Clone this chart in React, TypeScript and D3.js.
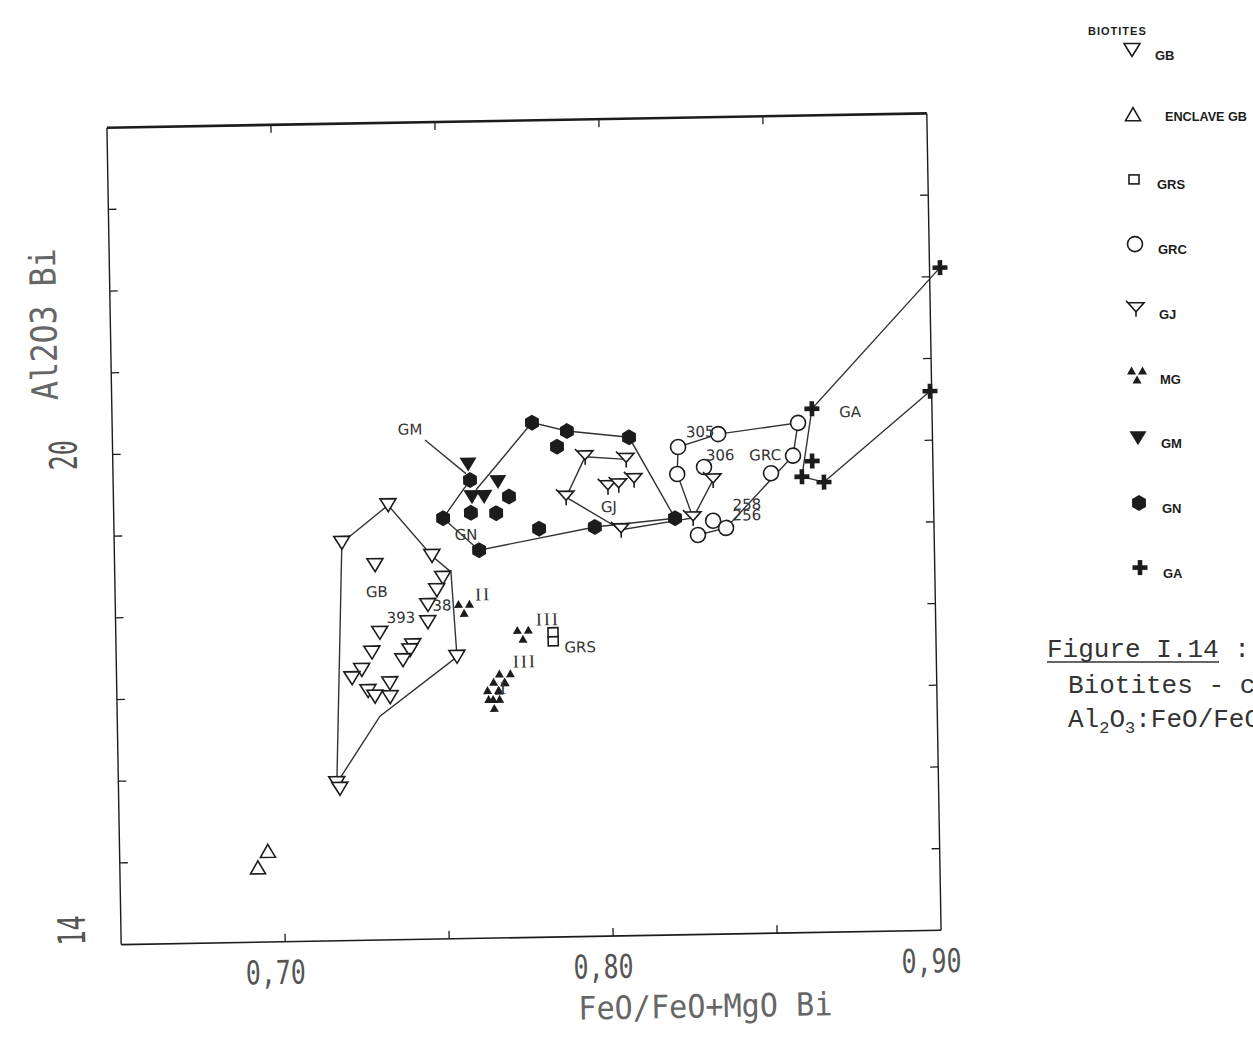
import React from "react";
import * as d3 from "d3";

type P = [number, number];

// ---- axes ----
const X_DOMAIN: P = [0.65, 0.9];
const Y_DOMAIN: P = [14, 24];
const X_TICKS = [0.7, 0.75, 0.8, 0.85];
const Y_TICKS = [15, 16, 17, 18, 19, 20, 21, 22, 23];
const X_TICK_LABELS: [number, string][] = [[0.7, "0,70"], [0.8, "0,80"], [0.9, "0,90"]];
const Y_TICK_LABELS: [number, string][] = [[20, "20"], [14, "14"]];
const X_TITLE = "FeO/FeO+MgO Bi";
const Y_TITLE = "Al2O3 Bi";

// ---- series (FeO/FeO+MgO, Al2O3) ----
const GB: P[] = [
  [0.7337, 19.32], [0.7194, 18.87], [0.7294, 18.59], [0.7468, 18.69], [0.75, 18.42],
  [0.7481, 18.27], [0.7453, 18.09], [0.7452, 17.88], [0.7305, 17.76], [0.7405, 17.6],
  [0.7396, 17.54], [0.7374, 17.42], [0.728, 17.52], [0.7248, 17.31], [0.7218, 17.21],
  [0.7539, 17.45], [0.7333, 17.14], [0.7266, 17.05], [0.7287, 16.98], [0.7333, 16.97],
  [0.7166, 15.93], [0.7175, 15.86],
];
const ENCLAVE_GB: P[] = [[0.6952, 15.11], [0.6921, 14.91]];
const GRS: P[] = [[0.7833, 17.73], [0.7833, 17.62]];
const GRC: P[] = [
  [0.8347, 20.12], [0.8224, 19.97], [0.822, 19.64], [0.8302, 19.72], [0.8591, 20.24],
  [0.8574, 19.84], [0.8506, 19.63], [0.8327, 19.06], [0.8366, 18.97], [0.828, 18.89],
];
const GJ: P[] = [
  [0.794, 19.87], [0.8065, 19.83], [0.8008, 19.5], [0.8041, 19.52], [0.8088, 19.58],
  [0.788, 19.38], [0.8046, 18.97], [0.8266, 19.1], [0.8329, 19.56],
];
const MG: P[] = [
  [0.7741, 17.73], [0.7684, 17.2], [0.7666, 17.1], [0.7647, 17.0], [0.765, 16.89], [0.7563, 18.06],
];
const GM: P[] = [[0.7583, 19.8], [0.7673, 19.58], [0.7593, 19.4], [0.763, 19.4]];
const GN: P[] = [
  [0.778, 20.3], [0.7886, 20.19], [0.7855, 20.0], [0.8075, 20.1], [0.7588, 19.61],
  [0.7504, 19.15], [0.7589, 19.21], [0.7666, 19.2], [0.7706, 19.4], [0.7612, 18.75],
  [0.7796, 19.0], [0.7966, 19.01], [0.8211, 19.1],
];
const GA: P[] = [
  [0.9032, 22.11], [0.8995, 20.6], [0.8634, 20.41], [0.8632, 19.77], [0.86, 19.58], [0.8667, 19.51],
];

// ---- connecting lines (hand-drawn envelopes) ----
const LINE_GB: P[] = [
  [0.7166, 15.93], [0.7194, 18.87], [0.7337, 19.32], [0.7468, 18.69], [0.7525, 18.49],
  [0.7539, 17.45], [0.7301, 16.74], [0.7166, 15.93],
];
const LINE_GN_UPPER: P[] = [[0.7606, 19.49], [0.778, 20.3], [0.7886, 20.19], [0.8075, 20.1], [0.8211, 19.1]];
const LINE_GN_LOWER: P[] = [[0.7588, 19.61], [0.7504, 19.15], [0.7612, 18.75], [0.7966, 19.01], [0.8211, 19.1]];
const LINE_GM_LEADER: P[] = [[0.7453, 20.11], [0.7576, 19.69]];
const LINE_GJ: P[] = [[0.8065, 19.83], [0.794, 19.87], [0.788, 19.38], [0.8046, 18.97], [0.8266, 19.1], [0.8329, 19.56]];
const LINE_GRC_UPPER: P[] = [[0.822, 19.64], [0.8224, 19.97], [0.8347, 20.12], [0.8591, 20.24], [0.8574, 19.84], [0.8366, 18.97]];
const LINE_GRC_LOWER: P[] = [[0.828, 18.89], [0.8366, 18.97]];
const LINE_GRC_GJ: P[] = [[0.822, 19.64], [0.8266, 19.1]];
const LINE_GA: P[] = [[0.9032, 22.11], [0.8634, 20.41], [0.86, 19.58], [0.8667, 19.51], [0.8995, 20.6]];
const LINES = [LINE_GB, LINE_GN_UPPER, LINE_GN_LOWER, LINE_GM_LEADER, LINE_GJ, LINE_GRC_UPPER, LINE_GRC_LOWER, LINE_GRC_GJ, LINE_GA];

// ---- in-plot labels ----
const LABELS: [string, number, number][] = [
  ["GM", 0.7408, 20.24], ["GN", 0.7573, 18.94], ["GB", 0.7298, 18.26], ["393", 0.737, 17.94],
  ["38", 0.7496, 18.08], ["GRS", 0.7915, 17.54], ["GJ", 0.801, 19.25], ["305", 0.8292, 20.15],
  ["306", 0.8352, 19.86], ["GRC", 0.8489, 19.85], ["258", 0.8431, 19.25], ["256", 0.843, 19.12],
  ["GA", 0.875, 20.36],
];
const ROMAN_LABELS: [string, number, number][] = [
  ["II", 0.7622, 18.21], ["III", 0.7818, 17.89], ["III", 0.7746, 17.38], ["I", 0.768, 17.06],
];

// ---- legend ----
const LEGEND_TITLE = "BIOTITES";
const LEGEND: [string, string][] = [
  ["GB", "GB"], ["ENCLAVE", "ENCLAVE GB"], ["GRS", "GRS"], ["GRC", "GRC"], ["GJ", "GJ"],
  ["MG", "MG"], ["GM", "GM"], ["GN", "GN"], ["GA", "GA"],
];

const CAPTION_TITLE = "Figure I.14 :";
const CAPTION_LINE1 = "Biotites - corrélation";

const INK = "#1c1c1c";

function Marker({ kind, x, y }: { kind: string; x: number; y: number }) {
  const t = `translate(${x},${y})`;
  const open = { fill: "#fff", stroke: INK, strokeWidth: 1.6 };
  switch (kind) {
    case "GB":
      return <path transform={t} d="M-8,-6.5L8,-6.5L0,6.5Z" {...open} />;
    case "ENCLAVE":
      return <path transform={t} d="M-7.5,6L7.5,6L0,-7Z" {...open} />;
    case "GRS":
      return <rect transform={t} x={-5} y={-4.5} width={10} height={9} {...open} />;
    case "GRC":
      return <circle transform={t} r={7.5} {...open} />;
    case "GJ":
      return (
        <g transform={t}>
          <path d="M-8,-6L8,-6L0,3Z" {...open} />
          <path d="M0,3L0,8M-8,-6L-10,-8" fill="none" stroke={INK} strokeWidth={1.6} />
        </g>
      );
    case "MG":
      return (
        <g transform={t} fill={INK}>
          <path d="M-10,1L-1,1L-5.5,-7Z" />
          <path d="M1,1L10,1L5.5,-7Z" />
          <path d="M-4.5,10L4.5,10L0,2Z" />
        </g>
      );
    case "GM":
      return <path transform={t} d="M-8.5,-7L8.5,-7L0,7Z" fill={INK} />;
    case "GN":
      return <path transform={t} d={d3.line().curve(d3.curveLinearClosed)(d3.range(6).map((i) => [8 * Math.cos(i * Math.PI / 3 + Math.PI / 6), 8 * Math.sin(i * Math.PI / 3 + Math.PI / 6)] as [number, number])) || ""} fill={INK} />;
    case "GA":
      return (
        <g transform={t} fill={INK}>
          <rect x={-7.5} y={-2.3} width={15} height={4.6} />
          <rect x={-2.3} y={-7.5} width={4.6} height={15} />
        </g>
      );
    default:
      return null;
  }
}

export default function App() {
  const left = 114, right = 934, top = 120.5, bottom = 937.5;
  const x = d3.scaleLinear().domain(X_DOMAIN).range([left, right]);
  const y = d3.scaleLinear().domain(Y_DOMAIN).range([bottom, top]);
  const line = d3.line<P>().x((d) => x(d[0])).y((d) => y(d[1]));
  const cx = (left + right) / 2, cy = (top + bottom) / 2;

  const series: [string, P[]][] = [
    ["GB", GB], ["ENCLAVE", ENCLAVE_GB], ["GRS", GRS], ["GRC", GRC], ["GJ", GJ],
    ["MG", MG], ["GN", GN], ["GM", GM], ["GA", GA],
  ];

  const legendX = 1132, legendY0 = 50, legendStep = 64.7;
  const narrow = "Liberation Sans Narrow, Arial Narrow, sans-serif";
  const mono = "Liberation Mono, Courier New, monospace";

  return (
    <svg width={1253} height={1047} style={{ position: "absolute", left: 0, top: 0, display: "block" }}>
      <rect width={1253} height={1047} fill="#fff" />
      <g transform={`rotate(-1 ${cx} ${cy})`}>
        {/* frame */}
        <line x1={left} x2={right} y1={top} y2={top} stroke={INK} strokeWidth={2.6} />
        <line x1={left} x2={right} y1={bottom} y2={bottom} stroke={INK} strokeWidth={1.6} />
        <line x1={left} x2={left} y1={top} y2={bottom} stroke={INK} strokeWidth={1.4} />
        <line x1={right} x2={right} y1={top} y2={bottom} stroke={INK} strokeWidth={1.4} />
        {X_TICKS.map((v) => (
          <g key={"xt" + v} stroke={INK} strokeWidth={1.3}>
            <line x1={x(v)} x2={x(v)} y1={top} y2={top + 8} />
            <line x1={x(v)} x2={x(v)} y1={bottom} y2={bottom - 8} />
          </g>
        ))}
        {Y_TICKS.map((v) => (
          <g key={"yt" + v} stroke={INK} strokeWidth={1.3}>
            <line x1={left} x2={left + 8} y1={y(v)} y2={y(v)} />
            <line x1={right} x2={right - 8} y1={y(v)} y2={y(v)} />
          </g>
        ))}
        {/* tick labels */}
        {X_TICK_LABELS.map(([v, t]) => (
          <text key={"xl" + t} x={x(v) - 10} y={bottom + 42} textAnchor="middle" fontFamily="DejaVu Sans Mono" fontSize={33}
            textLength={60} lengthAdjust="spacingAndGlyphs" fill="#555">{t}</text>
        ))}
        {Y_TICK_LABELS.map(([v, t]) => (
          <text key={"yl" + t} transform={`translate(${left - 36},${y(v)}) rotate(-90)`}
            textAnchor={v === Y_DOMAIN[0] ? "start" : "middle"} fontFamily="DejaVu Sans Mono" fontSize={38}
            textLength={30} lengthAdjust="spacingAndGlyphs" fill="#555">{t}</text>
        ))}
        <text x={697} y={bottom + 83} textAnchor="middle" fontFamily="DejaVu Sans Mono" fontSize={32}
          textLength={254} lengthAdjust="spacingAndGlyphs" fill="#666">{X_TITLE}</text>
        <text transform={`translate(${left - 54},${316}) rotate(-90)`} textAnchor="middle" fontFamily="DejaVu Sans Mono"
          fontSize={36} textLength={152} lengthAdjust="spacingAndGlyphs" fill="#666">{Y_TITLE}</text>

        {/* lines */}
        {LINES.map((l, i) => (
          <path key={"l" + i} d={line(l) || ""} fill="none" stroke="#333" strokeWidth={1.4} />
        ))}
        {/* markers */}
        {series.map(([k, pts]) =>
          pts.map((p, i) => <Marker key={k + i} kind={k} x={x(p[0])} y={y(p[1])} />)
        )}
        {/* labels */}
        {LABELS.map(([t, a, b], i) => (
          <text key={"lab" + i} x={x(a)} y={y(b)} textAnchor="middle" dominantBaseline="central"
            fontFamily="DejaVu Sans" fontSize={15} fill="#333">{t}</text>
        ))}
        {ROMAN_LABELS.map(([t, a, b], i) => (
          <text key={"rom" + i} x={x(a)} y={y(b)} textAnchor="middle" dominantBaseline="central"
            fontFamily="Liberation Serif" fontSize={18} fill="#333" letterSpacing={2}>{t}</text>
        ))}
      </g>

      {/* legend */}
      <text x={1088} y={35} fontFamily={narrow} fontWeight="bold" fontSize={11}
        letterSpacing={1} fill={INK}>{LEGEND_TITLE}</text>
      {LEGEND.map(([k, label], i) => {
        const sx = legendX + i * 1, sy = legendY0 + i * legendStep;
        const isEnclave = k === "ENCLAVE";
        return (
          <g key={"lg" + k}>
            <Marker kind={k} x={sx} y={sy} />
            {isEnclave ? (
              <text x={sx + 32} y={sy + 6} fontFamily={narrow} fontWeight="bold" fontSize={13}
                textLength={82} lengthAdjust="spacingAndGlyphs" fill={INK}>{label}</text>
            ) : (
              <text x={sx + 23} y={sy + 10} fontFamily={narrow} fontWeight="bold" fontSize={13} fill={INK}>{label}</text>
            )}
          </g>
        );
      })}

      {/* caption */}
      <text x={1047} y={657} fontFamily={mono} fontSize={26} fill="#333">{CAPTION_TITLE}</text>
      <line x1={1047} x2={1219} y1={662} y2={662} stroke="#333" strokeWidth={1.6} />
      <text x={1068} y={693} fontFamily={mono} fontSize={26} fill="#333">{CAPTION_LINE1}</text>
      <text x={1068} y={727} fontFamily={mono} fontSize={26} fill="#333">
        Al<tspan fontSize={17} dy={6}>2</tspan><tspan dy={-6}>O</tspan><tspan fontSize={17} dy={6}>3</tspan>
        <tspan dy={-6}>:FeO/FeO+MgO</tspan>
      </text>
    </svg>
  );
}
